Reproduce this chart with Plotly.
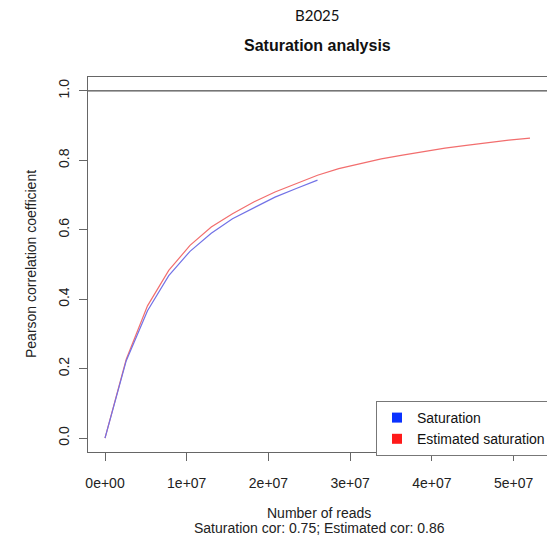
import plotly.graph_objects as go

# Data
reads_saturation = [0, 2.6e6, 5.2e6, 7.8e6, 1.04e7, 1.3e7, 1.56e7, 1.82e7, 2.08e7, 2.34e7, 2.6e7]
cor_saturation = [0.0, 0.223, 0.367, 0.468, 0.538, 0.590, 0.632, 0.664, 0.694, 0.719, 0.743]

reads_estimated = [0, 2.6e6, 5.2e6, 7.8e6, 1.04e7, 1.3e7, 1.56e7, 1.82e7, 2.08e7, 2.34e7, 2.6e7,
                   2.86e7, 3.12e7, 3.38e7, 3.64e7, 3.9e7, 4.16e7, 4.42e7, 4.68e7, 4.94e7, 5.2e7]
cor_estimated = [0.0, 0.227, 0.381, 0.483, 0.555, 0.608, 0.646, 0.680, 0.709, 0.733, 0.757,
                 0.776, 0.791, 0.804, 0.815, 0.826, 0.835, 0.843, 0.851, 0.858, 0.864]

x_tick_vals = [0, 1e7, 2e7, 3e7, 4e7, 5e7]
x_tick_text = ["0e+00", "1e+07", "2e+07", "3e+07", "4e+07", "5e+07"]
y_tick_vals = [0.0, 0.2, 0.4, 0.6, 0.8, 1.0]
y_tick_text = ["0.0", "0.2", "0.4", "0.6", "0.8", "1.0"]

legend_names = ["Saturation", "Estimated saturation"]
legend_colors = ["#0a32ff", "#ff1a1a"]

FONT = "Liberation Sans, Arial, sans-serif"

fig = go.Figure()

fig.add_trace(go.Scatter(x=reads_estimated, y=cor_estimated, mode="lines",
                         line=dict(color="#f26e6e", width=1.2), showlegend=False, hoverinfo="skip"))
fig.add_trace(go.Scatter(x=reads_saturation, y=cor_saturation, mode="lines",
                         line=dict(color="#7272e6", width=1.2), showlegend=False, hoverinfo="skip"))

for name, col in zip(legend_names, legend_colors):
    fig.add_trace(go.Scatter(x=[None], y=[None], mode="markers", name=name,
                             marker=dict(symbol="square", size=10, color=col)))

fig.add_hline(y=1.0, line=dict(color="#222222", width=1))

fig.update_layout(
    width=547, height=542,
    margin=dict(l=88, r=0, t=77, b=90, autoexpand=False),
    paper_bgcolor="white", plot_bgcolor="white",
    font=dict(family=FONT, size=14, color="#222222"),
    showlegend=True,
    legend=dict(x=(376 - 88) / 459, y=(452 - 401) / 375, xanchor="left", yanchor="top",
                bgcolor="white", bordercolor="#777777", borderwidth=1,
                font=dict(family=FONT, size=14, color="#111111"),
                itemwidth=30, tracegroupgap=0),
    xaxis=dict(range=[-2.08e6, 5.408e7], tickmode="array", tickvals=x_tick_vals, ticktext=x_tick_text,
               showgrid=False, zeroline=False, showline=True, mirror=True, linecolor="#666666",
               linewidth=1, ticks="outside", ticklen=8, tickcolor="#666666", ticklabelstandoff=10,
               tickfont=dict(family=FONT, size=14, color="#222222")),
    yaxis=dict(range=[-0.04, 1.04], tickmode="array", tickvals=y_tick_vals, ticktext=y_tick_text,
               showgrid=False, zeroline=False, showline=True, mirror=False, linecolor="#666666",
               linewidth=1, ticks="outside", ticklen=8, tickcolor="#666666", tickangle=-90,
               ticklabelstandoff=4,
               tickfont=dict(family=FONT, size=14, color="#222222")),
    annotations=[
        dict(text="B2025", x=317 / 547, y=1 - 15 / 542, xref="paper", yref="paper",
             xanchor="center", yanchor="middle", showarrow=False,
             font=dict(family="Lato, Open Sans, sans-serif", size=15, color="#111111")),
        dict(text="<b>Saturation analysis</b>", x=317 / 547, y=1 - 45 / 542, xref="paper", yref="paper",
             xanchor="center", yanchor="middle", showarrow=False,
             font=dict(family=FONT, size=16, color="#111111")),
        dict(text="Number of reads", x=319 / 547, y=1 - 513 / 542, xref="paper", yref="paper",
             xanchor="center", yanchor="middle", showarrow=False,
             font=dict(family=FONT, size=14, color="#222222")),
        dict(text="Saturation cor: 0.75; Estimated cor: 0.86", x=319 / 547, y=1 - 528 / 542,
             xref="paper", yref="paper", xanchor="center", yanchor="middle", showarrow=False,
             font=dict(family=FONT, size=14, color="#222222")),
        dict(text="Pearson correlation coefficient", x=31 / 547, y=1 - 264 / 542,
             xref="paper", yref="paper", xanchor="center", yanchor="middle", showarrow=False,
             textangle=-90, font=dict(family=FONT, size=14, color="#222222")),
    ],
)

# annotation paper coords are relative to plot area; convert from figure pixels
for ann in fig.layout.annotations:
    px_x = ann.x * 547
    px_y = (1 - ann.y) * 542
    ann.x = (px_x - 88) / 459
    ann.y = (452 - px_y) / 375

fig.write_html("out.html")
